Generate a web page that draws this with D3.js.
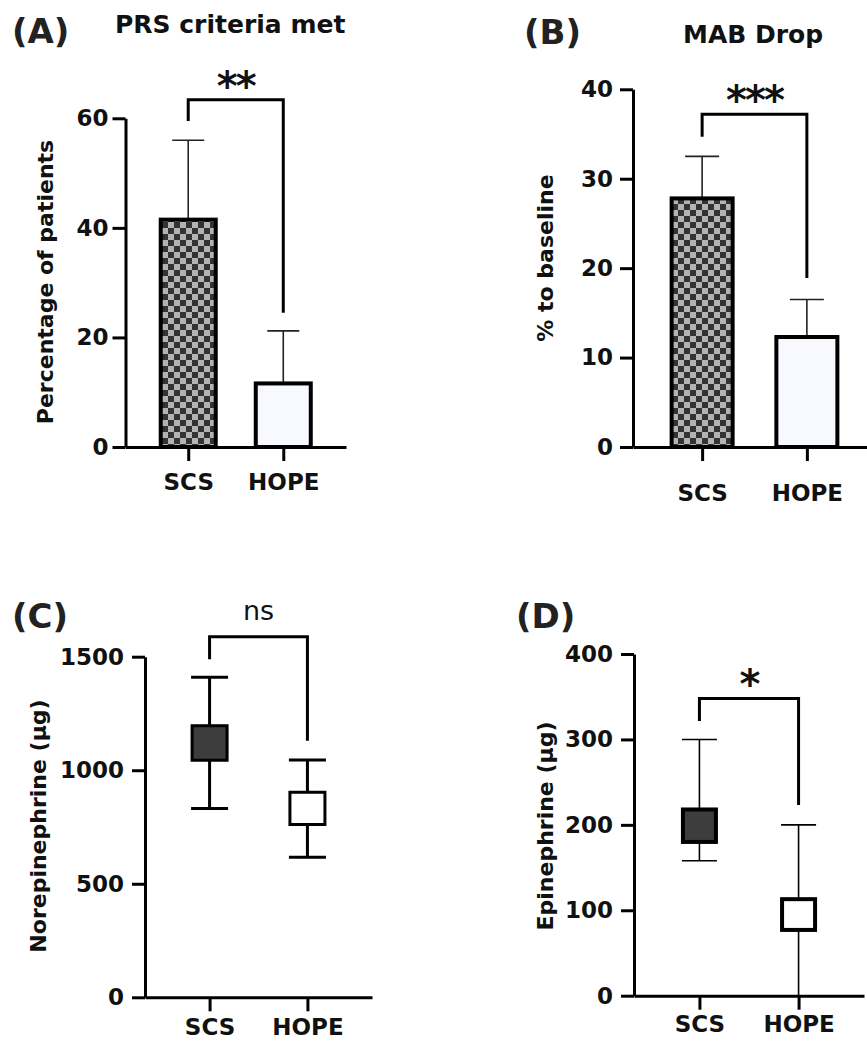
<!DOCTYPE html>
<meta charset="utf-8">
<style>
body { margin: 0; background: #fff; }
svg { display: block; font-family: "DejaVu Sans", sans-serif; }
</style>
<body>
<script src="https://d3js.org/d3.v7.min.js"></script>
<script>

// ---- data ----
var groups = ["SCS", "HOPE"];

// (A) PRS criteria met, % of patients
var prsMean = [41.5, 11.6];
var prsUpper = [56.0, 21.2];
var prsTicks = [0, 20, 40, 60];
var prsBracket = [63.4, 59.5, 24.5];   // top, left leg end, right leg end

// (B) MAB drop, % to baseline
var mabMean = [27.8, 12.3];
var mabUpper = [32.5, 16.5];
var mabTicks = [0, 10, 20, 30, 40];
var mabBracket = [37.2, 34.7, 18.9];

// (C) Norepinephrine (µg)
var noreBoxLow = [1044, 761];
var noreBoxHigh = [1196, 903];
var noreWhiskLow = [832, 617];
var noreWhiskHigh = [1409, 1045];
var noreTicks = [0, 500, 1000, 1500];
var noreBracket = [1588, 1489, 1130];

// (D) Epinephrine (µg)
var epiBoxLow = [180, 77];
var epiBoxHigh = [218, 113];
var epiWhiskLow = [158, 0];
var epiWhiskHigh = [300, 200];
var epiTicks = [0, 100, 200, 300, 400];
var epiBracket = [348, 321.6, 223.2];

var width = 867, height = 1043;

var svg = d3.select("body").append("svg")
    .attr("width", width)
    .attr("height", height);

var pat = svg.append("defs").append("pattern")
    .attr("id", "checker")
    .attr("width", 12).attr("height", 12)
    .attr("patternUnits", "userSpaceOnUse");
pat.append("rect").attr("width", 12).attr("height", 12).attr("fill", "#b3b3b3");
pat.append("rect").attr("width", 6).attr("height", 6).attr("fill", "#333");
pat.append("rect").attr("x", 6).attr("y", 6).attr("width", 6).attr("height", 6).attr("fill", "#333");

function panel(p) {
  var g = svg.append("g");

  var y = d3.scaleLinear().domain([0, p.max]).range([p.y0, p.y1]);
  var x = d3.scalePoint().domain(groups).range([p.x0, p.x1]).padding(0.66);

  // y axis
  var ya = g.append("g")
      .attr("transform", `translate(${p.x0},0)`)
      .call(d3.axisLeft(y).tickValues(p.ticks).tickFormat(d3.format("d"))
        .tickSize(13).tickPadding(p.tickPad).tickSizeOuter(0));
  ya.attr("font-family", null).attr("font-size", null);
  ya.select(".domain").attr("stroke-width", 3);
  ya.selectAll(".tick line").attr("stroke-width", 3);
  ya.selectAll(".tick text")
      .attr("font-size", 23).attr("font-weight", "bold").attr("fill", "#111");

  // x axis
  var xa = g.append("g")
      .attr("transform", `translate(0,${p.y0})`)
      .call(d3.axisBottom(x).tickSize(14).tickPadding(p.labelPad).tickSizeOuter(0));
  xa.attr("font-family", null).attr("font-size", null);
  xa.select(".domain").attr("stroke-width", 3);
  xa.selectAll(".tick line").attr("stroke-width", 3);
  xa.selectAll(".tick text")
      .attr("font-size", 23).attr("font-weight", "bold").attr("fill", "#111");

  // y axis title
  g.append("text")
      .attr("transform", `translate(${p.titleX},${p.titleY}) rotate(-90)`)
      .attr("text-anchor", "middle")
      .attr("font-size", 22).attr("font-weight", "bold").attr("fill", "#111")
      .text(p.yLabel);

  if (p.mean) {
    var rows = groups.map((k, i) => ({k: k, v: p.mean[i], up: p.upper[i], i: i}));
    g.selectAll("line.err").data(rows).enter().append("line")
        .attr("x1", d => x(d.k)).attr("x2", d => x(d.k))
        .attr("y1", d => y(d.v)).attr("y2", d => y(d.up))
        .attr("stroke", "#222").attr("stroke-width", 1.6);
    g.selectAll("line.cap").data(rows).enter().append("line")
        .attr("x1", d => x(d.k) - p.capW / 2).attr("x2", d => x(d.k) + p.capW / 2)
        .attr("y1", d => y(d.up)).attr("y2", d => y(d.up))
        .attr("stroke", "#222").attr("stroke-width", 1.6);
    g.selectAll("rect.bar").data(rows).enter().append("rect")
        .attr("x", d => x(d.k) - p.barW / 2)
        .attr("width", p.barW)
        .attr("y", d => y(d.v))
        .attr("height", d => y(0) - y(d.v))
        .attr("fill", d => d.i === 0 ? "url(#checker)" : "#f7f9ff")
        .attr("stroke", "#000").attr("stroke-width", 4);
  } else {
    var rows = groups.map((k, i) => ({k: k, lo: p.boxLow[i], hi: p.boxHigh[i],
        wlo: p.whiskLow[i], whi: p.whiskHigh[i], i: i}));
    g.selectAll("line.whisk").data(rows).enter().append("line")
        .attr("x1", d => x(d.k)).attr("x2", d => x(d.k))
        .attr("y1", d => y(d.wlo)).attr("y2", d => y(d.whi))
        .attr("stroke", "#000").attr("stroke-width", p.whiskStroke);
    ["wlo", "whi"].forEach(function(key) {
      g.selectAll("line.cap-" + key).data(rows).enter().append("line")
          .attr("x1", d => x(d.k) - p.capW / 2).attr("x2", d => x(d.k) + p.capW / 2)
          .attr("y1", d => y(d[key])).attr("y2", d => y(d[key]))
          .attr("stroke", "#000").attr("stroke-width", p.whiskStroke);
    });
    g.selectAll("rect.box").data(rows).enter().append("rect")
        .attr("x", d => x(d.k) - p.boxW / 2)
        .attr("width", p.boxW)
        .attr("y", d => y(d.hi))
        .attr("height", d => y(d.lo) - y(d.hi))
        .attr("fill", d => d.i === 0 ? "#3d3d3d" : "#fff")
        .attr("stroke", "#000").attr("stroke-width", p.boxStroke);
  }

  // significance bracket
  var b = p.bracket;
  g.append("path")
      .attr("d", `M${x(groups[0])},${y(b[1])}V${y(b[0])}H${x(groups[1])}V${y(b[2])}`)
      .attr("fill", "none").attr("stroke", "#000").attr("stroke-width", 3);
  var mid = (x(groups[0]) + x(groups[1])) / 2;
  if (p.sig === "ns") {
    g.append("text")
        .attr("x", mid).attr("y", y(b[0]) - 17)
        .attr("text-anchor", "middle")
        .attr("font-size", 27).attr("fill", "#111")
        .text("ns");
  } else {
    g.append("text")
        .attr("x", mid).attr("y", y(b[0]) + p.starDy)
        .attr("text-anchor", "middle")
        .attr("font-size", 40).attr("font-weight", "bold").attr("fill", "#111")
        .attr("letter-spacing", -2)
        .text(p.sig);
  }

  // panel letter and title
  g.append("text")
      .attr("x", p.letterX).attr("y", p.letterY)
      .attr("font-size", 34).attr("font-weight", "bold").attr("fill", "#222")
      .text(p.letter);
  if (p.title) {
    g.append("text")
        .attr("x", p.headX).attr("y", p.headY)
        .attr("font-size", 25).attr("font-weight", "bold").attr("fill", "#111")
        .text(p.title);
  }
}

panel({
  x0: 125.5, x1: 346, y0: 447, y1: 118.3, max: 60, ticks: prsTicks,
  tickPad: 4, labelPad: 13,
  mean: prsMean, upper: prsUpper, barW: 55, capW: 32,
  bracket: prsBracket, sig: "**", starDy: 0,
  yLabel: "Percentage of patients", titleX: 53, titleY: 282,
  letter: "(A)", letterX: 12, letterY: 43,
  title: "PRS criteria met", headX: 115, headY: 33
});

panel({
  x0: 633, x1: 876, y0: 447, y1: 89.3, max: 40, ticks: mabTicks,
  tickPad: 7, labelPad: 24,
  mean: mabMean, upper: mabUpper, barW: 61, capW: 34,
  bracket: mabBracket, sig: "***", starDy: 0,
  yLabel: "% to baseline", titleX: 553, titleY: 258,
  letter: "(B)", letterX: 524, letterY: 44,
  title: "MAB Drop", headX: 683, headY: 43
});

panel({
  x0: 145, x1: 372, y0: 997.3, y1: 656.7, max: 1500, ticks: noreTicks,
  tickPad: 8, labelPad: 7,
  boxLow: noreBoxLow, boxHigh: noreBoxHigh, whiskLow: noreWhiskLow, whiskHigh: noreWhiskHigh,
  boxW: 35, boxStroke: 3, whiskStroke: 3, capW: 37,
  bracket: noreBracket, sig: "ns",
  yLabel: "Norepinephrine (µg)", titleX: 46, titleY: 826,
  letter: "(C)", letterX: 12, letterY: 628
});

panel({
  x0: 634, x1: 864, y0: 995.7, y1: 654, max: 400, ticks: epiTicks,
  tickPad: 8, labelPad: 6,
  boxLow: epiBoxLow, boxHigh: epiBoxHigh, whiskLow: epiWhiskLow, whiskHigh: epiWhiskHigh,
  boxW: 33, boxStroke: 4, whiskStroke: 1.6, capW: 35,
  bracket: epiBracket, sig: "*", starDy: 0,
  yLabel: "Epinephrine (µg)", titleX: 553, titleY: 826,
  letter: "(D)", letterX: 516, letterY: 628
});

</script>
